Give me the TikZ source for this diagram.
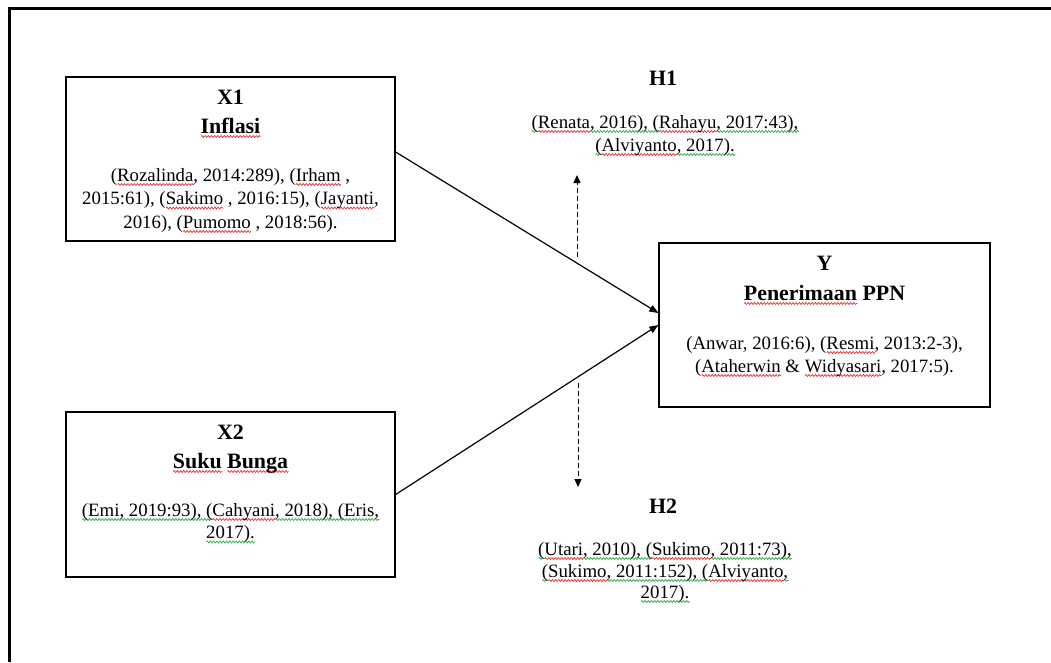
\documentclass[tikz,border=0pt]{standalone}
\usepackage{fontspec}
\setmainfont{Liberation Serif}
\usetikzlibrary{arrows.meta,decorations.pathmorphing}
\definecolor{wavered}{RGB}{230,50,50}
\definecolor{wavegreen}{RGB}{50,170,70}
\newsavebox\wvbox
\newlength\wvlen
\newcommand\wv[2]{\sbox\wvbox{#2}\setlength\wvlen{\wd\wvbox}\rlap{\tikz[baseline=0pt,x=1pt,y=1pt]\draw[#1,line width=0.7pt,decorate,decoration={zigzag,segment length=3.2pt,amplitude=1pt}] (0pt,-3.5pt) -- (\wvlen,-3.5pt);}\usebox\wvbox}
\newcommand\rw[1]{\wv{wavered}{#1}}
\newcommand\gw[1]{\wv{wavegreen}{#1}}
\tikzset{
  varbox/.style={draw, line width=1.3pt, inner sep=0pt},
  body/.style={anchor=base, inner sep=0pt, font=\fontsize{18.8}{22.5}\selectfont},
  title/.style={anchor=base, inner sep=0pt, font=\fontsize{21.9}{26}\selectfont\bfseries},
  conn/.style={line width=1.2pt, -{Triangle[length=9pt,width=7pt]}},
  dconn/.style={line width=1pt, dash pattern=on 5pt off 3pt, -{Triangle[length=8pt,width=7pt]}}
}
\begin{document}
\begin{tikzpicture}[x=1pt,y=-1pt]
\useasboundingbox (0,0) rectangle (1051,662);
\fill[white] (0,0) rectangle (1051,662);
\draw[line width=2.7pt] (9.7,662) -- (9.7,8.7) -- (1051,8.7);

% boxes
\node[varbox, minimum width=329pt, minimum height=164pt] (x1) at (230.5,159) {};
\node[varbox, minimum width=329pt, minimum height=165pt] (x2) at (230.5,494.5) {};
\node[varbox, minimum width=331pt, minimum height=164pt] (y) at (824.5,325) {};

% X1 text
\node[title] (x1t) at (230.5,104) {X1};
\node[title] (x1n) at (230.5,133) {\rw{Inflasi}};
\node[body] (x1c1) at (230.5,181) {(\rw{Rozalinda}, 2014:289), (\rw{Irham} ,};
\node[body] (x1c2) at (230.5,204.5) {2015:61), (\rw{Sakimo} , 2016:15), (\rw{Jayanti},};
\node[body] (x1c3) at (230.5,228) {2016), (\rw{Pumomo} , 2018:56).};

% X2 text
\node[title] (x2t) at (230.5,439) {X2};
\node[title] (x2n) at (230.5,468) {\rw{Suku} \rw{Bunga}};
\node[body] (x2c1) at (230.5,516) {\gw{(Emi, 2019:93), (}\rw{Cahyani}\gw{, 2018), (Eris,}};
\node[body] (x2c2) at (230.5,538.5) {\gw{2017).}};

% Y text
\node[title] (yt) at (824.5,270) {Y};
\node[title] (yn) at (824.5,300) {\rw{Penerimaan} PPN};
\node[body] (yc1) at (824.5,349) {(Anwar, 2016:6), (\rw{Resmi}, 2013:2-3),};
\node[body] (yc2) at (824.5,372) {(\rw{Ataherwin} \& \rw{Widyasari}, 2017:5).};

% H1 text
\node[title] (h1t) at (663,85) {H1};
\node[body] (h1c1) at (665,128) {\gw{(}\rw{Renata}\gw{, 2016), (}\rw{Rahayu}\gw{, 2017:43),}};
\node[body] (h1c2) at (665,151) {\gw{(}\rw{Alviyanto}\gw{, 2017).}};

% H2 text
\node[title] (h2t) at (663,513) {H2};
\node[body] (h2c1) at (665,555) {\gw{(}\rw{Utari}\gw{, 2010), (}\rw{Sukimo}\gw{, 2011:73),}};
\node[body] (h2c2) at (665,577) {\gw{(}\rw{Sukimo}\gw{, 2011:152), (}\rw{Alviyanto}\gw{,}};
\node[body] (h2c3) at (665,598) {\gw{2017).}};

% connectors
\draw[conn] ([yshift=7pt]x1.east) -- ([yshift=12pt]y.west);
\draw[conn] (x2.east) -- (y.west);

\coordinate (h1a) at (577,257);
\coordinate (h1b) at (577,175);
\coordinate (h2a) at (578,383);
\coordinate (h2b) at (578,487);
\draw[dconn] (h1a) -- (h1b);
\draw[dconn] (h2a) -- (h2b);
\end{tikzpicture}
\end{document}
